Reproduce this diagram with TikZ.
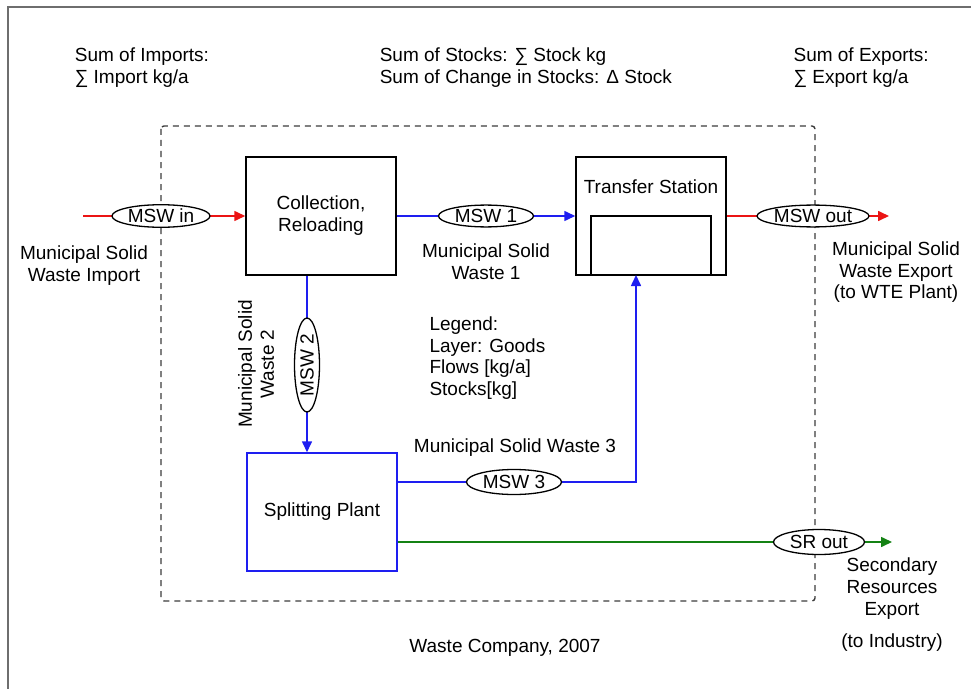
\documentclass[tikz,border=0pt]{standalone}
\usepackage{fontspec}
\setmainfont{Liberation Sans}
\usetikzlibrary{arrows.meta,shapes.geometric}
\definecolor{flowred}{RGB}{235,20,20}
\definecolor{flowblue}{RGB}{30,30,240}
\definecolor{flowgreen}{RGB}{20,130,20}
\definecolor{framegray}{RGB}{110,110,110}
\definecolor{dashgray}{RGB}{60,60,60}
\begin{document}
\begin{tikzpicture}[x=1bp,y=-1bp,
  every node/.style={font=\fontsize{19bp}{22bp}\selectfont, inner sep=0pt},
  txt/.style={align=center},
  ltxt/.style={align=left, anchor=west},
  proc/.style={draw=black, line width=1.5bp},
  flowell/.style={draw=black, fill=white, ellipse, line width=1.3bp, inner xsep=0pt, inner ysep=1bp},
  arr/.style={line width=1.6bp, -{Triangle[length=11bp,width=10bp]}},
  sysbound/.style={draw=dashgray, line width=1.4bp, dash pattern=on 6bp off 5bp, rounded corners=3bp}
]
\useasboundingbox (0,0) rectangle (971,689);
\draw[framegray, line width=2bp] (8,689) -- (8,7) -- (971,7);
\draw[sysbound] (161,126) rectangle (815,601);

% processes
\node[proc, minimum width=150bp, minimum height=118bp, align=center] (coll) at (321,216) {Collection,\\Reloading};
\node[proc, minimum width=150bp, minimum height=118bp] (ts) at (651,216) {};
\node[txt] (tslbl) at (651,187) {Transfer Station};
\draw[line width=1.5bp] (591,275) -- (591,216) -- (711,216) -- (711,275);
\node[proc, draw=flowblue, minimum width=150bp, minimum height=118bp, txt] (sp) at (322,512) {Splitting Plant};

% positions of flow ellipses and free ends
\coordinate (pin) at (161,216);
\coordinate (p1) at (486,216);
\coordinate (pout) at (813,216);
\coordinate (p2) at (307,365);
\coordinate (p3) at (514,482);
\coordinate (psr) at (819,542);
\coordinate (impstart) at (83,216);
\coordinate (outend) at (889,216);
\coordinate (srend) at (892,542);
\coordinate (tsin) at (636,275);

% flows
\draw[arr, color=flowred] (impstart) -- (coll.west);
\draw[arr, color=flowblue] (coll.east) -- (ts.west);
\draw[arr, color=flowred] (ts.east) -- (outend);
\draw[arr, color=flowblue] (coll.south -| p2) -- (sp.north -| p2);
\draw[arr, color=flowblue] (sp.east |- p3) -| (tsin);
\draw[arr, color=flowgreen] (sp.east |- psr) -- (srend);

% flow ellipses
\node[flowell, minimum width=98bp, minimum height=22bp] (mswin) at (pin) {MSW in};
\node[flowell, minimum width=95bp, minimum height=21bp] (msw1) at (p1) {MSW 1};
\node[flowell, minimum width=112bp, minimum height=21bp] (mswout) at (pout) {MSW out};
\node[flowell, minimum width=94bp, minimum height=25bp, rotate=90] (msw2) at (p2) {MSW 2};
\node[flowell, minimum width=95bp, minimum height=25bp] (msw3) at (p3) {MSW 3};
\node[flowell, minimum width=91bp, minimum height=25bp] (srout) at (psr) {SR out};

% labels
\node[txt] (impl) at (84,265.8) {Municipal Solid\\Waste Import};
\node[txt] (w1l) at (486,262) {Municipal Solid\\Waste 1};
\node[txt] (expl) at (896,262) {Municipal Solid\\Waste Export};
\node[txt] (wte) at (896,294) {(to WTE Plant)};
\node[txt, rotate=90] (w2l) at (256,364) {Municipal Solid\\Waste 2};
\node[txt] (w3l) at (515,448) {Municipal Solid Waste 3};
\node[txt] (secl) at (892,588.8) {Secondary\\Resources\\Export};
\node[txt] (ind) at (892,643) {(to Industry)};
\node[txt] (co) at (505,648) {Waste Company, 2007};
\node[ltxt, font=\fontsize{19bp}{21.7bp}\selectfont] (leg) at (429.3,358) {Legend:\\Layer: Goods\\Flows [kg/a]\\Stocks[kg]};
\node[ltxt] (imps) at (74.7,67.5) {Sum of Imports:\\∑ Import kg/a};
\node[ltxt] (stks) at (379.6,67.5) {Sum of Stocks: ∑ Stock kg\\Sum of Change in Stocks: Δ Stock};
\node[ltxt] (exps) at (793.4,67.5) {Sum of Exports:\\∑ Export kg/a};
\end{tikzpicture}
\end{document}
